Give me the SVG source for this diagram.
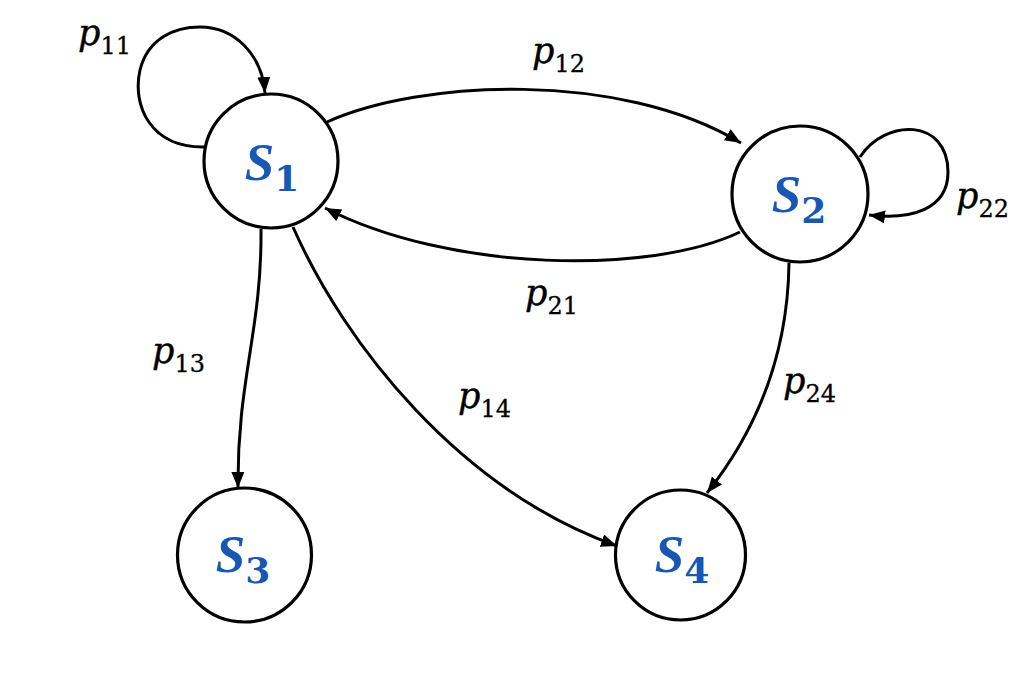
<svg xmlns="http://www.w3.org/2000/svg" width="1024" height="683" viewBox="0 0 1024 683">
<style>
.node{fill:#ffffff;stroke:#000000;stroke-width:3.2}
.edge{fill:none;stroke:#000000;stroke-width:3;marker-end:url(#arrow)}
.nl{font-family:"Liberation Serif",serif;font-size:53px;font-weight:bold;font-style:italic;fill:#1658b4}
.nsub{font-family:"DejaVu Serif",serif;font-size:36px;font-weight:bold;font-style:normal;fill:#1658b4}
.el{font-family:"DejaVu Serif",serif;font-size:35px;font-style:italic;fill:#000000;stroke:#000000;stroke-width:0.4}
.esub{font-family:"DejaVu Serif",serif;font-size:24px;font-style:normal;fill:#000000;stroke:#000000;stroke-width:0.3}
</style>
<defs>
<marker id="arrow" markerUnits="userSpaceOnUse" markerWidth="17" markerHeight="14" refX="16" refY="6.5" orient="auto">
<path d="M0,0 L16,6.5 L0,13 Z" fill="#000000"/>
</marker>
</defs>
<rect width="1024" height="683" fill="#ffffff"/>
<g id="connectors">
<path id="e11" class="edge" d="M205,147 C150,148 132,105 140,70 C148,38 175,27 200,27 C235,27 262,55 265,93"/>
<path id="e12" class="edge" d="M327,122 C420,80 620,70 741,143"/>
<path id="e21" class="edge" d="M740,232 C650,275 450,272 325,208"/>
<path id="e22" class="edge" d="M860,157 C885,118 948,118 948,172 C948,210 910,220 869,215"/>
<path id="e13" class="edge" d="M261,229 C262,330 237,380 238,488"/>
<path id="e14" class="edge" d="M293,227 C345,345 460,490 617,546"/>
<path id="e24" class="edge" d="M789,263 C788,340 765,420 707,493"/>
</g>
<g id="edge-labels">
<text class="el" x="78" y="45">p<tspan class="esub" dy="9">11</tspan></text>
<text class="el" x="532" y="63">p<tspan class="esub" dy="9">12</tspan></text>
<text class="el" x="525" y="305">p<tspan class="esub" dy="9">21</tspan></text>
<text class="el" x="956" y="208">p<tspan class="esub" dy="9">22</tspan></text>
<text class="el" x="152" y="363">p<tspan class="esub" dy="9">13</tspan></text>
<text class="el" x="458" y="408">p<tspan class="esub" dy="9">14</tspan></text>
<text class="el" x="783" y="393">p<tspan class="esub" dy="9">24</tspan></text>
</g>
<g id="S1">
<circle class="node" cx="271" cy="161" r="67"/>
<text class="nl" x="272" y="180" text-anchor="middle">S<tspan class="nsub" dy="11">1</tspan></text>
</g>
<g id="S2">
<circle class="node" cx="800" cy="194" r="68"/>
<text class="nl" x="799" y="212" text-anchor="middle">S<tspan class="nsub" dy="11">2</tspan></text>
</g>
<g id="S3">
<circle class="node" cx="244.5" cy="555" r="67"/>
<text class="nl" x="243" y="572" text-anchor="middle">S<tspan class="nsub" dy="11">3</tspan></text>
</g>
<g id="S4">
<circle class="node" cx="680.5" cy="555" r="65"/>
<text class="nl" x="682" y="572" text-anchor="middle">S<tspan class="nsub" dy="11">4</tspan></text>
</g>
</svg>
